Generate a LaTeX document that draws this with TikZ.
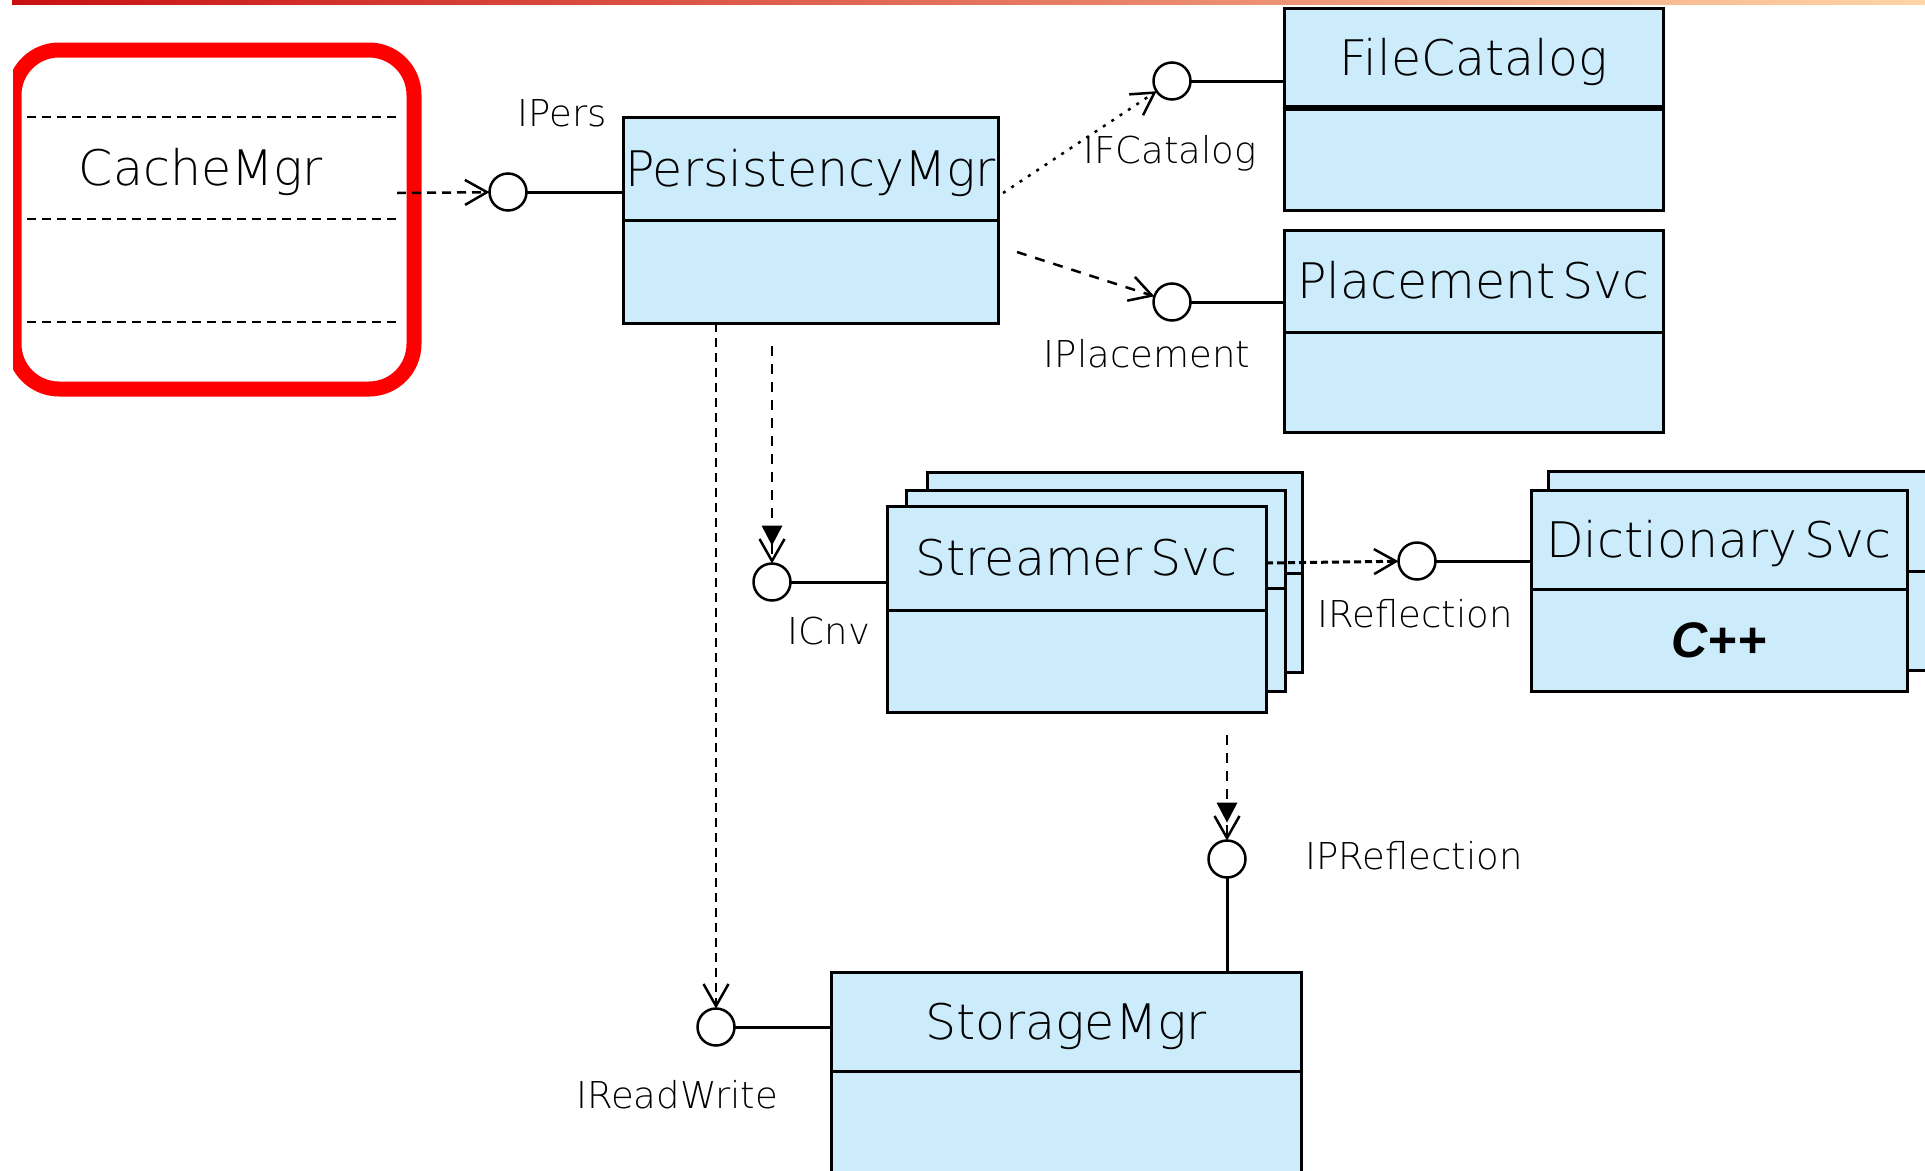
\documentclass[tikz,border=0pt]{standalone}
\usepackage{fontspec}
\newfontfamily\umlfont{DejaVu Sans ExtraLight}
\newfontfamily\cppfont{Liberation Sans}
\usetikzlibrary{arrows.meta,calc}
\definecolor{umlblue}{RGB}{204,236,252}
\definecolor{barred}{RGB}{200,16,16}
\definecolor{barmid}{RGB}{228,112,90}
\definecolor{barpeach}{RGB}{255,214,166}
\begin{document}
\begin{tikzpicture}[x=1pt,y=-1pt,
  cls/.style={draw=black, line width=3pt, fill=umlblue, inner sep=0pt, outer sep=0pt, minimum width=#1},
  ttl/.style={font=\umlfont\fontsize{49}{49}\selectfont, text height=35pt, text depth=0pt},
  lolly/.style={circle, draw=black, line width=2.5pt, minimum size=37pt, inner sep=0pt, outer sep=0pt, fill=white},
  lbl/.style={font=\umlfont\fontsize{37}{37}\selectfont, anchor=base, inner sep=0pt},
  barb/.style={-{Straight Barb[length=22pt,width=25pt,line width=2.5pt]}},
  conn/.style={line width=3pt},
  dep/.style={line width=2.5pt, dash pattern=on 9pt off 6pt},
  dotdep/.style={line width=2.5pt, dash pattern=on 3pt off 7pt},
  shortdep/.style={line width=3pt, dash pattern=on 7pt off 4pt}
]
\useasboundingbox (0,0) rectangle (1925,1170);
\fill[white] (0,0) rectangle (1925,1170);

% top bar
\shade[left color=barred, middle color=barmid, right color=barpeach] (12,0) rectangle (1925,4);

% CacheMgr (highlighted)
\begin{scope}
  \clip (13,0) rectangle (1925,1170);
  \draw[red, line width=15pt, rounded corners=45pt] (14,50) rectangle (414,389);
\end{scope}
\draw[dep] (27,117) -- (397,117);
\draw[dep] (27,219) -- (397,219);
\draw[dep] (27,322) -- (397,322);
\node[ttl, anchor=base, inner sep=0pt] (cm) at (201,185) {CacheMgr};
\coordinate (cmR) at (397,193);

% PersistencyMgr
\node[cls=375, minimum height=103pt, anchor=north west, ttl] (pmT) at (623,117) {PersistencyMgr};
\node[cls=375, minimum height=103pt, anchor=north] (pmB) at (pmT.south) {};

% FileCatalog
\node[cls=379, minimum height=100pt, anchor=north west, ttl] (fcT) at (1284,8) {FileCatalog};
\node[cls=379, minimum height=102pt, anchor=north] (fcB) at (fcT.south) {};
\draw[line width=5.5pt] (fcT.south west) -- (fcT.south east);

% PlacementSvc
\node[cls=379, minimum height=102pt, anchor=north west, ttl] (psT) at (1284,230) {Placement\hspace{0.15em}Svc};
\node[cls=379, minimum height=100pt, anchor=north] (psB) at (psT.south) {};

% StreamerSvc stack
\node[cls=375, minimum height=101pt, anchor=north west] (ss3T) at (927,472) {};
\node[cls=375, minimum height=99pt, anchor=north] (ss3B) at (ss3T.south) {};
\node[cls=379, minimum height=98pt, anchor=north west] (ss2T) at (906,490) {};
\node[cls=379, minimum height=103pt, anchor=north] (ss2B) at (ss2T.south) {};
\node[cls=379, minimum height=104pt, anchor=north west, ttl] (ssT) at (887,506) {Streamer\hspace{0.15em}Svc};
\node[cls=379, minimum height=102pt, anchor=north] (ssB) at (ssT.south) {};

% DictionarySvc stack
\node[cls=420, minimum height=100pt, anchor=north west] (ds2T) at (1548,471) {};
\node[cls=420, minimum height=99pt, anchor=north] (ds2B) at (ds2T.south) {};
\node[cls=376, minimum height=99pt, anchor=north west, ttl] (dsT) at (1531,490) {Dictionary\hspace{0.15em}Svc};
\node[cls=376, minimum height=102pt, anchor=north, font=\cppfont\bfseries\itshape\fontsize{50}{50}\selectfont] (dsB) at (dsT.south) {C++};

% StorageMgr
\node[cls=470, minimum height=99pt, anchor=north west, ttl] (smT) at (831,972) {StorageMgr};
\node[cls=470, minimum height=140pt, anchor=north] (smB) at (smT.south) {};

% lollipops
\node[lolly] (ipers) at (508,192) {};
\node[lolly] (ifcat) at (1172,81) {};
\node[lolly] (iplace) at (1172,302) {};
\node[lolly] (icnv) at (772,582) {};
\node[lolly] (irefl) at (1417,561) {};
\node[lolly] (iprefl) at (1227,859) {};
\node[lolly] (irw) at (716,1027) {};

% interface labels
\node[lbl] (lpers) at (562,126) {IPers};
\node[lbl] (lfcat) at (1170,163) {IFCatalog};
\node[lbl] (lplace) at (1147,367) {IPlacement};
\node[lbl] (lcnv) at (829,644) {ICnv};
\node[lbl] (lrefl) at (1415,627) {IReflection};
\node[lbl] (lprefl) at (1414,869) {IPReflection};
\node[lbl] (lrw) at (677,1108) {IReadWrite};

% connectors
\draw[dep, barb] (cmR) -- (ipers);
\draw[conn] (ipers) -- (ipers -| pmT.west);

\coordinate (pmR1) at (1003,193);
\draw[dotdep, barb] (pmR1) -- (ifcat);
\draw[conn] (ifcat) -- (ifcat -| fcT.west);

\coordinate (pmR2) at (1017,252);
\draw[dep, dash pattern=on 10pt off 9pt, barb] (pmR2) -- (iplace);
\draw[conn] (iplace) -- (iplace -| psT.west);

\draw[dep, line width=2pt, barb] (irw |- pmB.south) -- (irw);
\draw[conn] (irw) -- (irw -| smT.west);

\coordinate (pmB2) at (772,346);
\draw[dep, line width=2pt, dash pattern=on 10pt off 8pt, barb] (pmB2) -- (icnv);
\fill ($(icnv.north)+(0,-18)$) -- ++(-10.5,-20) -- ++(21,0) -- cycle;
\draw[conn] (icnv) -- (icnv -| ssT.west);

\coordinate (ssR) at (1266,563);
\draw[shortdep, barb] (ssR) -- (irefl);
\draw[conn] (irefl) -- (irefl -| dsT.west);

\coordinate (ssD) at (1227,735);
\draw[dep, line width=2pt, dash pattern=on 10pt off 8pt, barb] (ssD) -- (iprefl);
\fill ($(iprefl.north)+(0,-18)$) -- ++(-10.5,-20) -- ++(21,0) -- cycle;
\draw[conn] (iprefl) -- (iprefl |- smT.north);
\end{tikzpicture}
\end{document}
